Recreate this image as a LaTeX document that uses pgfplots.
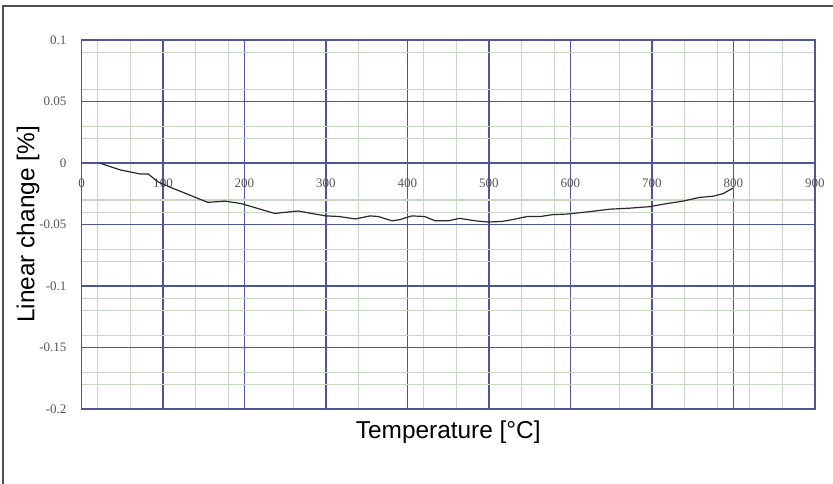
\documentclass[border=0pt]{standalone}
\usepackage{pgfplots}
\pgfplotsset{compat=1.18}
\usepackage{fontspec}
\setmainfont{Liberation Sans}
\newfontfamily\tickfont{Liberation Serif}
\definecolor{major}{HTML}{50549A}
\definecolor{minorg}{HTML}{C8D6C4}
\definecolor{curve}{HTML}{2A2A2A}
\definecolor{ticktxt}{HTML}{555555}
\definecolor{frame}{HTML}{505050}

\begin{document}
\begin{tikzpicture}
\useasboundingbox (-40.75pt,-37pt) rectangle (375.75pt,204.5pt);
\draw[frame, line width=0.8pt] (-39.25pt,-45pt) -- (-39.25pt,201.5pt) -- (385pt,201.5pt);
\begin{axis}[
    at={(0,0)}, anchor=south west,
    scale only axis,
    width=366.75pt,
    height=184.5pt,
    xmin=0, xmax=900,
    ymin=-0.2, ymax=0.1,
    xtick={0,100,...,900},
    xticklabels={0,100,200,300,400,500,600,700,800,900},
    ytick={-0.2,-0.15,-0.1,-0.05,0,0.05,0.1},
    yticklabels={-0.2,-0.15,-0.1,-0.05,0,0.05,0.1},
    minor xtick={20,60,140,180,260,340,420,460,540,580,660,740,780,820,860},
    minor ytick={0.09,0.06,0.03,0.02,-0.03,-0.04,-0.07,-0.08,-0.11,-0.12,-0.14,-0.17,-0.18},
    major tick length=0pt,
    minor tick length=0pt,
    grid=both,
    major grid style={major, line width=0.9pt},
    minor grid style={minorg, line width=0.6pt},
    axis line style={major, line width=0.9pt},
    tick label style={font=\tickfont\fontsize{6.5}{7}\selectfont, text=ticktxt},
    xticklabel style={anchor=center, yshift=113pt},
    yticklabel style={anchor=east, xshift=-4pt},
    xlabel={Temperature [°C]},
    ylabel={Linear change [\%]},
    label style={font=\fontsize{12.2}{14}\selectfont},
    xlabel style={at={(axis description cs:0.5,-0.0623)}, anchor=center},
    ylabel style={at={(axis description cs:-0.0729,0.5)}, anchor=center},
]
\addplot[curve, line width=0.6pt] coordinates {
  (22,0) (48,-0.0057) (72,-0.0089) (82,-0.009) (94,-0.0154) (110,-0.020)
  (155,-0.032) (176,-0.031) (196,-0.033) (237,-0.041) (266,-0.039) (282,-0.041)
  (300,-0.043) (316,-0.0435) (336,-0.0455) (354,-0.043) (364,-0.0435) (381,-0.047)
  (391,-0.046) (405,-0.043) (421,-0.0435) (434,-0.047) (450,-0.047) (464,-0.045)
  (483,-0.047) (499,-0.048) (516,-0.0475) (529,-0.046) (547,-0.0435) (563,-0.0435)
  (578,-0.042) (596,-0.0415) (624,-0.0395) (649,-0.0375) (673,-0.0367) (697,-0.0355)
  (718,-0.033) (738,-0.031) (758,-0.028) (775,-0.027) (787,-0.025) (799,-0.0205)
};
\end{axis}
\end{tikzpicture}
\end{document}
